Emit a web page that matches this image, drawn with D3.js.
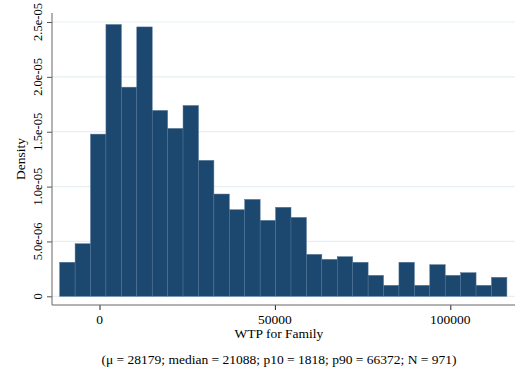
<!DOCTYPE html>
<html>
<head>
<meta charset="utf-8">
<script src="https://cdn.jsdelivr.net/npm/d3@7"></script>
<style>
html,body{margin:0;padding:0;background:#fff;}
svg{display:block;}
text{font-family:"Liberation Serif","Times New Roman",serif;fill:#000;}
</style>
</head>
<body>
<svg id="chart" width="528" height="384"></svg>
<script>
// ---- data ----
const binEdges = [-11352,-6956,-2560,1836,6232,10628,15024,19420,23816,28212,32608,37004,41400,45796,50192,54588,58984,63380,67776,72172,76568,80964,85360,89756,94152,98548,102944,107340,111736,116132];
const density = [3.10e-6,4.79e-6,1.478e-5,2.477e-5,1.906e-5,2.455e-5,1.694e-5,1.530e-5,1.739e-5,1.239e-5,9.32e-6,7.89e-6,8.83e-6,6.92e-6,8.11e-6,7.19e-6,3.82e-6,3.37e-6,3.61e-6,3.10e-6,1.91e-6,1.00e-6,3.10e-6,1.00e-6,2.88e-6,1.91e-6,2.15e-6,1.00e-6,1.73e-6];
const xTicks = [0,50000,100000];
const xTickLabels = ["0","50000","100000"];
const yTicks = [0,5e-6,1e-5,1.5e-5,2e-5,2.5e-5];
const yTickLabels = ["0","5.0e-06","1.0e-05","1.5e-05","2.0e-05","2.5e-05"];
const xTitle = "WTP for Family";
const yTitle = "Density";
const note = "(\u03BC = 28179; median = 21088; p10 = 1818; p90 = 66372; N = 971)";

// ---- layout ----
const svg = d3.select("#chart");
const plotL = 52, plotR = 515, plotT = 13, plotB = 305;
const x = d3.scaleLinear().domain([0,100000]).range([99.5,450.3]);
const y = d3.scaleLinear().domain([0,2.5e-5]).range([296.3,22]);

// gridlines
svg.append("g").selectAll("line").data(yTicks).join("line")
  .attr("x1",plotL).attr("x2",plotR)
  .attr("y1",d=>y(d)).attr("y2",d=>y(d))
  .attr("stroke","#e6eff1").attr("stroke-width",1.2);

// bars
const bins = density.map((d,i)=>({x0:binEdges[i],x1:binEdges[i+1],v:d}));
svg.append("g").selectAll("rect").data(bins).join("rect")
  .attr("x",d=>x(d.x0)).attr("width",d=>x(d.x1)-x(d.x0))
  .attr("y",d=>y(d.v)).attr("height",d=>y(0)-y(d.v))
  .attr("fill","#1c476e").attr("stroke","#4f7598").attr("stroke-width",0.5);

// y axis
const yAxis = d3.axisLeft(y).tickValues(yTicks).tickFormat("").tickSize(5);
const gy = svg.append("g").attr("transform",`translate(${plotL},0)`).call(yAxis);
gy.select(".domain").remove();
gy.selectAll(".tick line").attr("stroke","#555");
svg.append("g").selectAll("text").data(yTicks).join("text")
  .attr("transform",d=>`translate(42,${y(d)}) rotate(-90)`)
  .attr("text-anchor","middle").attr("font-size",12.5)
  .text((d,i)=>yTickLabels[i]);
svg.append("line").attr("x1",plotL).attr("x2",plotL).attr("y1",plotT).attr("y2",plotB)
  .attr("stroke","#666").attr("stroke-width",1);

// x axis
const xAxis = d3.axisBottom(x).tickValues(xTicks).tickFormat("").tickSize(5);
const gx = svg.append("g").attr("transform",`translate(0,${plotB})`).call(xAxis);
gx.select(".domain").remove();
gx.selectAll(".tick line").attr("stroke","#222");
svg.append("g").selectAll("text").data(xTicks).join("text")
  .attr("x",d=>x(d)).attr("y",323.5).attr("text-anchor","middle")
  .attr("font-size",13.5).text((d,i)=>xTickLabels[i]);
svg.append("line").attr("x1",plotL).attr("x2",plotR).attr("y1",plotB).attr("y2",plotB)
  .attr("stroke","#666").attr("stroke-width",1);

// titles
svg.append("text").attr("x",x(50000)+4).attr("y",337.5).attr("text-anchor","middle")
  .attr("font-size",13.5).text(xTitle);
svg.append("text").attr("transform",`translate(25,159) rotate(-90)`).attr("text-anchor","middle")
  .attr("font-size",13.5).text(yTitle);
svg.append("text").attr("x",279).attr("y",364).attr("text-anchor","middle")
  .attr("font-size",13.5).text(note);
</script>
</body>
</html>
